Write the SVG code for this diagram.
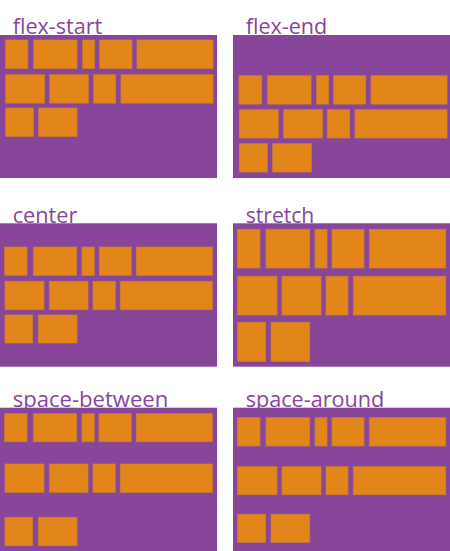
<svg xmlns="http://www.w3.org/2000/svg" width="450" height="551" viewBox="0 0 450 551">
<style>
.bg{fill:#87469a}
.it{fill:#e3861a;stroke:#cc7c2c;stroke-width:0.8}
.t{font-family:"Open Sans","Noto Sans",sans-serif;font-size:21px;fill:#87469a}
</style>
<rect width="450" height="551" fill="#ffffff"/>
<g id="flex-start">
<rect class="bg" x="0" y="35" width="217" height="143"/>
<text class="t" x="12.7" y="34" textLength="89.6" lengthAdjust="spacingAndGlyphs">flex-start</text>
<rect class="it" x="5.5" y="40" width="22.3" height="28.5"/>
<rect class="it" x="33.7" y="40" width="43.3" height="28.5"/>
<rect class="it" x="82.7" y="40" width="12" height="28.5"/>
<rect class="it" x="99.7" y="40" width="32.3" height="28.5"/>
<rect class="it" x="137" y="40" width="76" height="28.5"/>
<rect class="it" x="5.7" y="74.7" width="39" height="28.4"/>
<rect class="it" x="49.7" y="74.7" width="38.6" height="28.4"/>
<rect class="it" x="93.7" y="74.7" width="22" height="28.4"/>
<rect class="it" x="121" y="74.7" width="92" height="28.4"/>
<rect class="it" x="5.7" y="108" width="27.7" height="28.4"/>
<rect class="it" x="38.7" y="108" width="38.3" height="28.4"/>
</g>
<g id="flex-end">
<rect class="bg" x="233" y="35" width="217" height="143"/>
<text class="t" x="245.7" y="34" textLength="81.6" lengthAdjust="spacingAndGlyphs">flex-end</text>
<rect class="it" x="239" y="75.7" width="22.7" height="28.4"/>
<rect class="it" x="267.7" y="75.7" width="43.3" height="28.4"/>
<rect class="it" x="316.7" y="75.7" width="12" height="28.4"/>
<rect class="it" x="333.7" y="75.7" width="32" height="28.4"/>
<rect class="it" x="371" y="75.7" width="76" height="28.4"/>
<rect class="it" x="239.3" y="109.7" width="39" height="28.3"/>
<rect class="it" x="283.7" y="109.7" width="38.6" height="28.3"/>
<rect class="it" x="327.3" y="109.7" width="22.4" height="28.3"/>
<rect class="it" x="355" y="109.7" width="92" height="28.3"/>
<rect class="it" x="239.3" y="143.7" width="28" height="28.3"/>
<rect class="it" x="272.7" y="143.7" width="38.6" height="28.3"/>
</g>
<g id="center">
<rect class="bg" x="0" y="223.3" width="217" height="143.4"/>
<text class="t" x="12.7" y="222.5" textLength="64.6" lengthAdjust="spacingAndGlyphs">center</text>
<rect class="it" x="4.7" y="247" width="22.3" height="28.3"/>
<rect class="it" x="33.3" y="247" width="43.4" height="28.3"/>
<rect class="it" x="82" y="247" width="12.3" height="28.3"/>
<rect class="it" x="99.3" y="247" width="32" height="28.3"/>
<rect class="it" x="136.3" y="247" width="76" height="28.3"/>
<rect class="it" x="5" y="281.3" width="39" height="28.4"/>
<rect class="it" x="49.3" y="281.3" width="38.7" height="28.4"/>
<rect class="it" x="93" y="281.3" width="22.3" height="28.4"/>
<rect class="it" x="120.3" y="281.3" width="92" height="28.4"/>
<rect class="it" x="5" y="315" width="27.7" height="28"/>
<rect class="it" x="38.3" y="315" width="38.7" height="28"/>
</g>
<g id="stretch">
<rect class="bg" x="233" y="223.3" width="217" height="143.4"/>
<text class="t" x="245.7" y="222.5" textLength="68.6" lengthAdjust="spacingAndGlyphs">stretch</text>
<rect class="it" x="237.3" y="229.3" width="22.7" height="38.7"/>
<rect class="it" x="266" y="229.3" width="43.7" height="38.7"/>
<rect class="it" x="315" y="229.3" width="12" height="38.7"/>
<rect class="it" x="332" y="229.3" width="32" height="38.7"/>
<rect class="it" x="369.3" y="229.3" width="76.4" height="38.7"/>
<rect class="it" x="237.7" y="276.3" width="39.3" height="38.7"/>
<rect class="it" x="282" y="276.3" width="39" height="38.7"/>
<rect class="it" x="326" y="276.3" width="22" height="38.7"/>
<rect class="it" x="353.3" y="276.3" width="92.4" height="38.7"/>
<rect class="it" x="237.7" y="322.3" width="28" height="39"/>
<rect class="it" x="271" y="322.3" width="38.7" height="39"/>
</g>
<g id="space-between">
<rect class="bg" x="0" y="407.7" width="217" height="143.3"/>
<text class="t" x="12.7" y="406.5" textLength="155.6" lengthAdjust="spacingAndGlyphs">space-between</text>
<rect class="it" x="4.7" y="413.7" width="22.3" height="28"/>
<rect class="it" x="33.3" y="413.7" width="43.4" height="28"/>
<rect class="it" x="82" y="413.7" width="12.3" height="28"/>
<rect class="it" x="99" y="413.7" width="32.3" height="28"/>
<rect class="it" x="136.3" y="413.7" width="76" height="28"/>
<rect class="it" x="5" y="464" width="39" height="28.3"/>
<rect class="it" x="49.3" y="464" width="38.7" height="28.3"/>
<rect class="it" x="93" y="464" width="22.3" height="28.3"/>
<rect class="it" x="120.3" y="464" width="92" height="28.3"/>
<rect class="it" x="5" y="517.3" width="27.7" height="28.4"/>
<rect class="it" x="38.3" y="517.3" width="38.7" height="28.4"/>
</g>
<g id="space-around">
<rect class="bg" x="233" y="407.7" width="217" height="143.3"/>
<text class="t" x="245.7" y="406.5" textLength="138.6" lengthAdjust="spacingAndGlyphs">space-around</text>
<rect class="it" x="237.3" y="417.7" width="22.7" height="28.3"/>
<rect class="it" x="266" y="417.7" width="43.7" height="28.3"/>
<rect class="it" x="315" y="417.7" width="12" height="28.3"/>
<rect class="it" x="332" y="417.7" width="32" height="28.3"/>
<rect class="it" x="369.3" y="417.7" width="76.4" height="28.3"/>
<rect class="it" x="237.7" y="466.7" width="39.3" height="28"/>
<rect class="it" x="282" y="466.7" width="39" height="28"/>
<rect class="it" x="326" y="466.7" width="22" height="28"/>
<rect class="it" x="353.3" y="466.7" width="92.4" height="28"/>
<rect class="it" x="237.7" y="514.3" width="28" height="28"/>
<rect class="it" x="271" y="514.3" width="38.7" height="28"/>
</g>
</svg>
